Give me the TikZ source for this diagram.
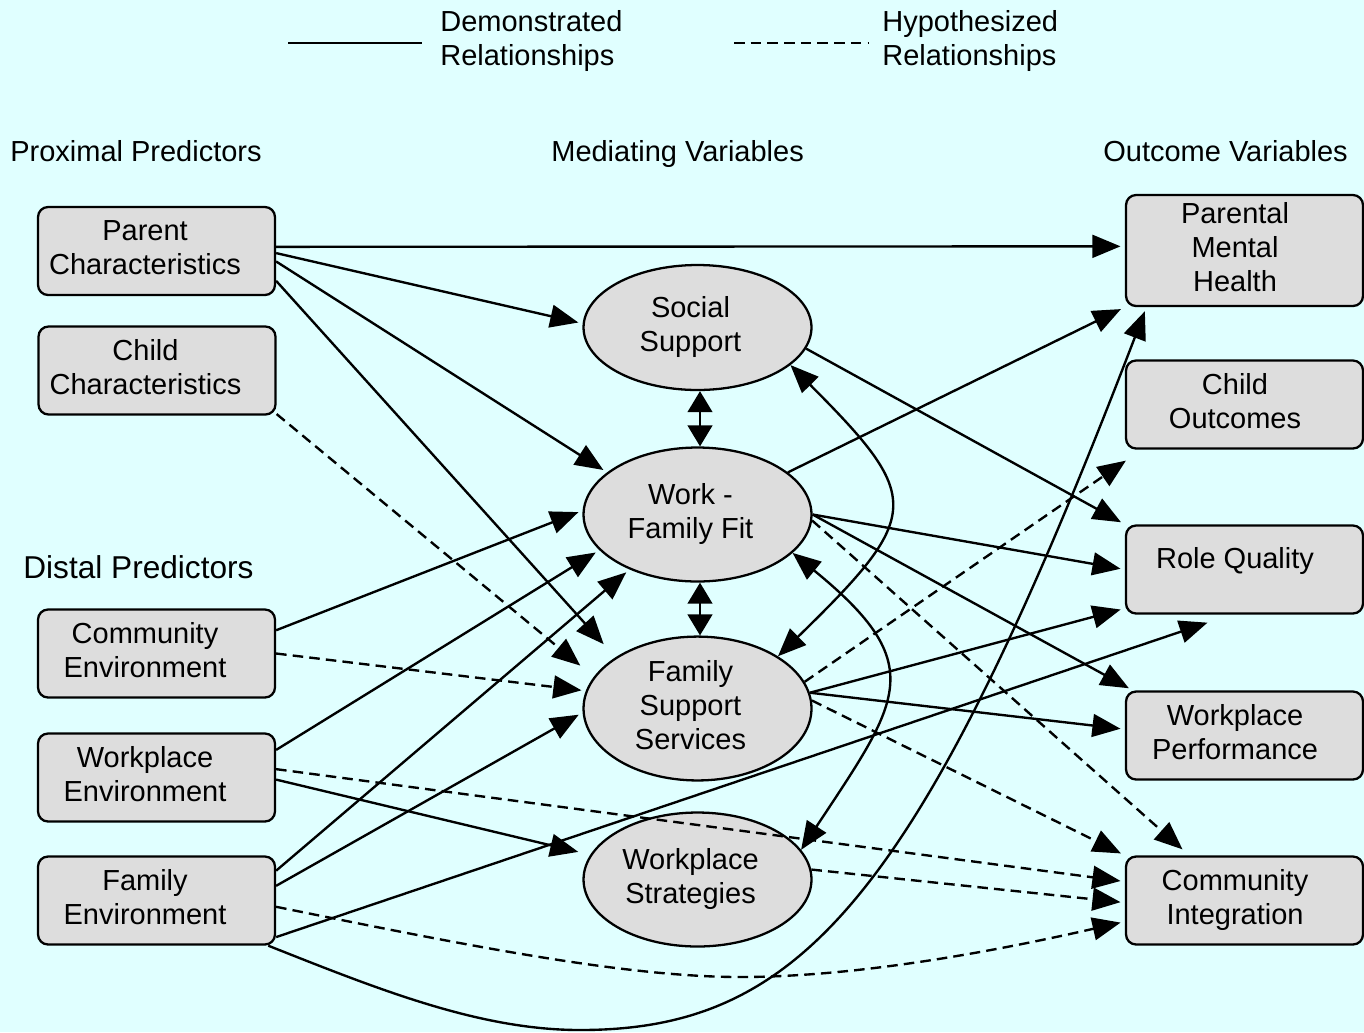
\documentclass[tikz,border=0pt]{standalone}
\usepackage{fontspec}
\setmainfont{Liberation Sans}
\usetikzlibrary{arrows.meta,shapes.geometric,calc}
\definecolor{bgcyan}{RGB}{224,255,255}
\definecolor{boxgray}{RGB}{221,221,221}
% centred lines, pushed a little to the left
\newcommand{\boxlines}[2][0.46cm]{\begin{tabular}{@{}c@{\hspace{#1}}}#2\end{tabular}}

\tikzset{
  varbox/.style={draw, line width=1.3pt, rounded corners=0.2cm, fill=boxgray,
    minimum width=4.74cm, minimum height=1.76cm, inner sep=0pt, font=\fontsize{16.5}{19.3}\selectfont},
  varoval/.style={ellipse, draw, line width=1.3pt, fill=boxgray,
    minimum width=4.56cm, inner sep=0pt, font=\fontsize{16.5}{19.3}\selectfont},
  heading/.style={anchor=base west, inner sep=0pt, font=\fontsize{16.5}{19.3}\selectfont},
  legendtext/.style={anchor=west, align=left, inner sep=0pt, font=\fontsize{16.5}{19.3}\selectfont},
  demo/.style={line width=1.35pt, -{Triangle[length=16pt,width=13pt]}, shorten >=2.5pt},
  hypo/.style={demo, dash pattern=on 6pt off 3.5pt},
  both/.style={line width=1.35pt, {Triangle[length=16pt,width=13pt]}-{Triangle[length=16pt,width=13pt]}},
  bothshort/.style={line width=1.6pt, {Triangle[length=12pt,width=14pt]}-{Triangle[length=12pt,width=14pt]}},
}

\begin{document}
\begin{tikzpicture}[x=0.02cm, y=-0.02cm]
  \fill[bgcyan] (0,0) rectangle (1364,1032);
  \useasboundingbox (0,0) rectangle (1364,1032);
  % legend
  \coordinate (s1) at (288,43);
  \coordinate (s2) at (422,43);
  \coordinate (s3) at (734,43);
  \coordinate (s4) at (868,43);
  \draw[line width=1.7pt] (s1) -- (s2);
  \draw[line width=1.7pt, dash pattern=on 6pt off 3.5pt] (s3) -- (s4);
  \node[legendtext] (l1) at (440,41) {Demonstrated\\Relationships};
  \node[legendtext] (l2) at (882,41) {Hypothesized\\Relationships};
  % column headings
  \node[heading] (h1) at (10,161) {Proximal Predictors};
  \node[heading] (h2) at (551,161) {Mediating Variables};
  \node[heading] (h3) at (1103,161) {Outcome Variables};
  \node[heading, font=\fontsize{18}{21}\selectfont] (h4) at (23,578) {Distal Predictors};
  % predictors
  \node[varbox] (p1) at (156.5,251) {\boxlines{Parent\\Characteristics}};
  \node[varbox] (p2) at (157,370.5) {\boxlines{Child\\Characteristics}};
  \node[varbox] (p3) at (156.5,653.5) {\boxlines{Community\\Environment}};
  \node[varbox] (p4) at (156.5,777.5) {\boxlines{Workplace\\Environment}};
  \node[varbox] (p5) at (156.5,900.5) {\boxlines{Family\\Environment}};
  % mediators
  \node[varoval, minimum height=2.5cm] (m1) at (697.5,327.5) {\boxlines[0.28cm]{Social\\Support}};
  \node[varoval, minimum height=2.68cm] (m2) at (697.5,514.5) {\boxlines[0.28cm]{Work -\\Family Fit}};
  \node[varoval, minimum height=2.84cm] (m3) at (697.5,708.5) {\boxlines[0.28cm]{Family\\Support\\Services}};
  \node[varoval, minimum height=2.68cm] (m4) at (697.5,879.5) {\boxlines[0.28cm]{Workplace\\Strategies}};
  % outcomes
  \node[varbox, minimum height=2.22cm] (o1) at (1244.5,250.5) {\boxlines[0.38cm]{Parental\\Mental\\Health}};
  \node[varbox] (o2) at (1244.5,404.5) {\boxlines[0.38cm]{Child\\Outcomes}};
  \node[varbox] (o3) at (1244.5,569.5) {\boxlines[0.38cm]{Role Quality\\[0.3cm]}};
  \node[varbox] (o4) at (1244.5,735.5) {\boxlines[0.38cm]{Workplace\\Performance}};
  \node[varbox] (o5) at (1244.5,900.5) {\boxlines[0.38cm]{Community\\Integration}};
  % from predictors
  \draw[demo] (p1.2) -- (o1.178);
  \draw[demo] (p1.-1) -- (m1.178);
  \draw[demo] (p1.-5) -- (m2.155);
  \draw[demo, shorten >=10pt] (p1.-14) -- (m3.148);
  \draw[hypo, shorten >=10pt] (p2.-20) -- (m3.163);
  \draw[demo] (p3.11) -- (m2.178);
  \draw[hypo] (p3.east) -- (m3.171);
  \draw[demo] (p4.13) -- (m2.200);
  \draw[hypo] (p4.4) -- (o5.171);
  \draw[demo, shorten >=7pt] (p4.-1) -- (m4.167);
  \draw[demo] (p5.14) -- (m2.219);
  \draw[demo] (p5.7) -- (m3.182);
  \draw[demo, shorten >=0pt] (p5.-17) -- ($(o3.south)+(-37,8)$);
  \draw[demo] (p5.-22) .. controls (380,990) and (480,1030) .. (580,1030)
    .. controls (800,1030) and (919,900) .. (o1.-150);
  \draw[hypo] (p5.-3) .. controls (450,942) and (620,977) .. (740,977)
    .. controls (860,977) and (1000,950) .. (o5.190);
  % from mediators
  \draw[bothshort] ([xshift=0.05cm]m1.south) -- ([xshift=0.05cm]m2.north);
  \draw[bothshort] ([xshift=0.05cm]m2.south) -- ([xshift=0.05cm]m3.north);
  \draw[both] (m1.-22) .. controls (923,498) and (923,515) .. (m3.33);
  \draw[both] (m2.-22) .. controls (930,665) and (900,700) .. (m4.16);
  \draw[demo] (m1.-11) -- (o3.north west);
  \draw[demo] (m2.25) -- (o1.south west);
  \draw[demo] (m2.east) -- (o3.west);
  \draw[demo] (m2.east) -- (o4.158);
  \draw[hypo, shorten >=0pt] (m2.-3) -- ($(o5.north)+(-62,-6)$);
  \draw[hypo, shorten >=0pt] (m3.14) -- ($(o2.south west)+(1,11)$);
  \draw[demo] (m3.8) -- (o3.198);
  \draw[demo] (m3.8) -- (o4.177);
  \draw[hypo] (m3.4) -- (o5.north west);
  \draw[hypo] (m4.5) -- (o5.181);
\end{tikzpicture}
\end{document}
